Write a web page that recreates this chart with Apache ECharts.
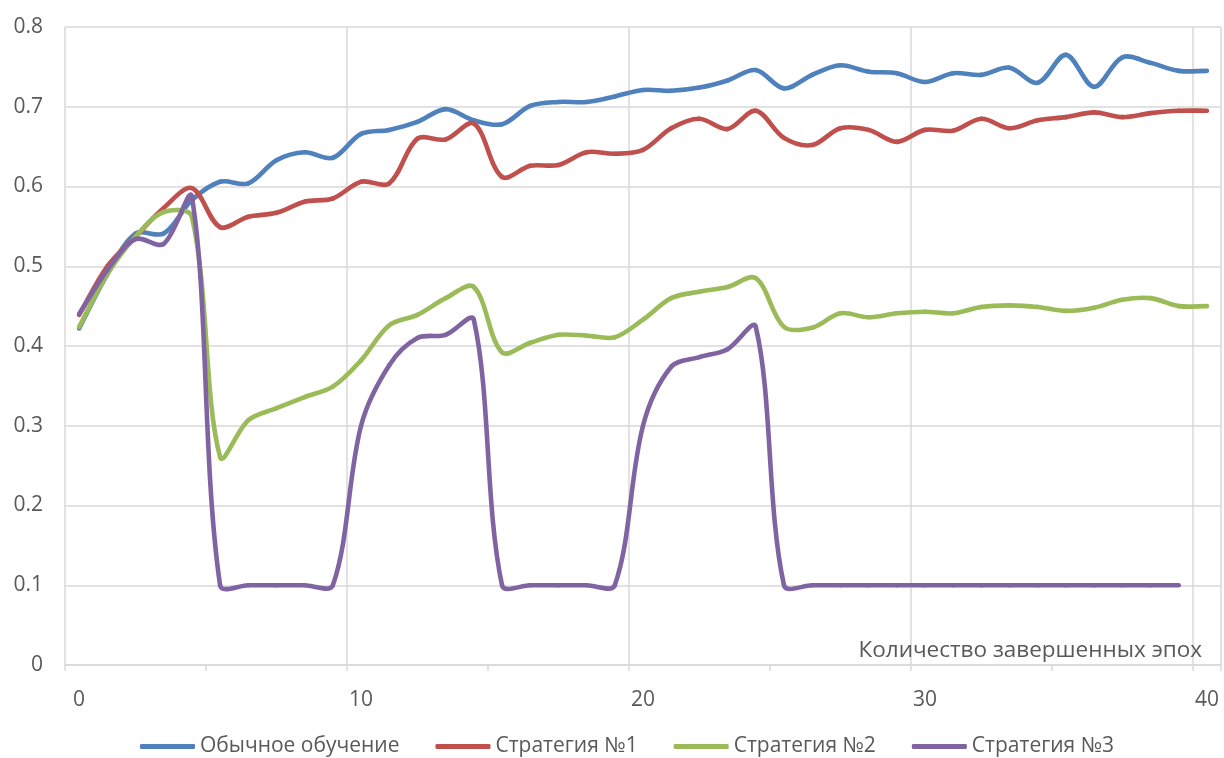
<!DOCTYPE html>
<html>
<head>
<meta charset="utf-8">
<script src="https://cdn.jsdelivr.net/npm/echarts@6/dist/echarts.min.js"></script>
<style>
  html, body { margin: 0; padding: 0; background: #fff; }
  #chart { width: 1224px; height: 758px; }
</style>
</head>
<body>
<div id="chart"></div>
<script>
// Epochs 0..40
const epochs = Array.from({ length: 41 }, (_, i) => String(i));

const seriesNames = ['Обычное обучение', 'Стратегия №1', 'Стратегия №2', 'Стратегия №3'];
const axisTitle = 'Количество завершенных эпох';

const baseline = [
  0.422, 0.490, 0.541, 0.541, 0.583, 0.606, 0.604, 0.633, 0.643, 0.636,
  0.666, 0.671, 0.681, 0.697, 0.683, 0.678, 0.701, 0.706, 0.706, 0.713,
  0.721, 0.720, 0.724, 0.733, 0.746, 0.723, 0.740, 0.752, 0.744, 0.742,
  0.731, 0.742, 0.740, 0.749, 0.730, 0.765, 0.725, 0.762, 0.755, 0.745,
  0.745
];

const strategy1 = [
  0.439, 0.500, 0.537, 0.573, 0.598, 0.549, 0.562, 0.567, 0.581, 0.585,
  0.606, 0.604, 0.660, 0.659, 0.679, 0.612, 0.626, 0.627, 0.643, 0.641,
  0.646, 0.673, 0.685, 0.672, 0.695, 0.661, 0.652, 0.673, 0.671, 0.656,
  0.671, 0.670, 0.685, 0.673, 0.683, 0.687, 0.693, 0.687, 0.692, 0.695,
  0.695
];

const strategy2 = [
  0.424, 0.490, 0.537, 0.568, 0.562, 0.261, 0.307, 0.322, 0.336, 0.349,
  0.382, 0.426, 0.439, 0.460, 0.474, 0.392, 0.404, 0.414, 0.413, 0.411,
  0.433, 0.460, 0.468, 0.474, 0.485, 0.424, 0.423, 0.441, 0.436, 0.441,
  0.443, 0.441, 0.449, 0.451, 0.449, 0.444, 0.448, 0.458, 0.460, 0.450,
  0.450
];

const strategy3 = [
  0.440, 0.495, 0.534, 0.528, 0.587, 0.100, 0.100, 0.100, 0.100, 0.100,
  0.300, 0.376, 0.410, 0.414, 0.433, 0.100, 0.100, 0.100, 0.100, 0.100,
  0.300, 0.374, 0.386, 0.396, 0.424, 0.100, 0.100, 0.100, 0.100, 0.100,
  0.100, 0.100, 0.100, 0.100, 0.100, 0.100, 0.100, 0.100, 0.100, 0.100,
  null
];

const colors = ['#4F81BD', '#C0504D', '#9BBB59', '#8064A2'];
const values = [baseline, strategy1, strategy2, strategy3];

const FONT = '"Open Sans", "Noto Sans", sans-serif';
const TEXT = '#595959';
const GRID = '#D9D9D9';
const LINE_W = 4.6;
const SMOOTH = 1 / 3;

const isNum = v => v !== null && v !== undefined && !isNaN(v);
const dist = (a, b) => Math.hypot(b[0] - a[0], b[1] - a[1]);

// Tangent at a point, split into outgoing/incoming handles weighted by
// the lengths of the adjacent segments (keeps overshoot small at steep steps).
function handles(prev, cur, next) {
  const vx = next[0] - prev[0];
  const vy = next[1] - prev[1];
  const lp = dist(prev, cur);
  const ln = dist(cur, next);
  const sum = lp + ln || 1;
  return {
    out: [cur[0] + vx * SMOOTH * ln / sum, cur[1] + vy * SMOOTH * ln / sum],
    inc: [cur[0] - vx * SMOOTH * lp / sum, cur[1] - vy * SMOOTH * lp / sum]
  };
}

// Each data item draws the curve segment from point i to point i+1,
// with pixel positions taken from the chart's own axes via api.coord.
function renderSegment(params, api) {
  const vals = values[params.seriesIndex];
  const i = params.dataIndex;
  if (!isNum(vals[i]) || i + 1 >= vals.length || !isNum(vals[i + 1])) return null;
  const pt = k => api.coord([k, vals[k]]);
  const p1 = pt(i);
  const p2 = pt(i + 1);
  const p0 = (i - 1 >= 0 && isNum(vals[i - 1])) ? pt(i - 1) : p1;
  const p3 = (i + 2 < vals.length && isNum(vals[i + 2])) ? pt(i + 2) : p2;
  const h1 = handles(p0, p1, p2);
  const h2 = handles(p1, p2, p3);
  return {
    type: 'bezierCurve',
    shape: {
      x1: p1[0], y1: p1[1],
      x2: p2[0], y2: p2[1],
      cpx1: h1.out[0], cpy1: h1.out[1],
      cpx2: h2.inc[0], cpy2: h2.inc[1]
    },
    style: {
      stroke: colors[params.seriesIndex],
      lineWidth: LINE_W,
      fill: null,
      lineCap: 'round',
      lineJoin: 'round'
    }
  };
}

const chart = echarts.init(document.getElementById('chart'), null, { renderer: 'canvas' });

chart.setOption({
  animation: false,
  backgroundColor: '#ffffff',
  color: colors,
  textStyle: { fontFamily: FONT, color: TEXT },
  grid: { left: 65, right: 3, top: 27, bottom: 93, containLabel: false },
  legend: {
    data: seriesNames,
    bottom: -4,
    left: 135,
    itemWidth: 55,
    itemHeight: 5,
    itemGap: 36,
    icon: 'roundRect',
    textStyle: { fontFamily: FONT, fontSize: 21, color: TEXT }
  },
  xAxis: {
    type: 'category',
    data: epochs,
    boundaryGap: true,
    axisLine: { show: true, lineStyle: { color: GRID, width: 1.5 } },
    axisTick: { show: true, interval: 4, length: 6, lineStyle: { color: GRID, width: 1.5 } },
    axisLabel: { interval: 9, margin: 25, fontFamily: FONT, fontSize: 21, color: TEXT },
    splitLine: { show: true, interval: 9, lineStyle: { color: GRID, width: 1.5 } }
  },
  yAxis: {
    type: 'value',
    min: 0,
    max: 0.8,
    interval: 0.1,
    axisLine: { show: false },
    axisTick: { show: false },
    axisLabel: { margin: 22, fontFamily: FONT, fontSize: 21, color: TEXT,
      formatter: v => String(Math.round(v * 10) / 10) },
    splitLine: { show: true, lineStyle: { color: GRID, width: 1.5 } }
  },
  graphic: [{
    type: 'text',
    right: 22,
    top: 639,
    z: 1,
    style: { text: axisTitle, font: '22.5px ' + FONT, fill: TEXT }
  }],
  series: seriesNames.map((name, i) => ({
    name,
    type: 'custom',
    renderItem: renderSegment,
    data: values[i].map((v, k) => [k, v]),
    encode: { x: 0, y: 1 },
    itemStyle: { color: colors[i] },
    clip: false,
    z: 2 + i
  }))
});
</script>
</body>
</html>
